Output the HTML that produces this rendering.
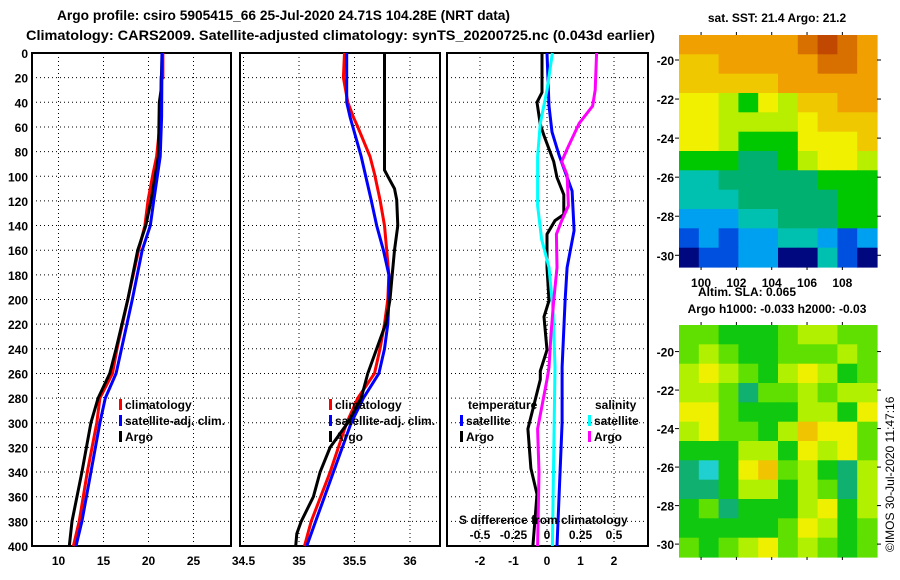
<!DOCTYPE html>
<html><head><meta charset="utf-8"><style>
body{margin:0;background:#fff}
svg{display:block;font-family:"Liberation Sans",sans-serif;font-weight:bold}
</style></head><body>
<svg id="s" width="900" height="580" viewBox="0 0 900 580">
<text x="57" y="20" font-size="14" textLength="453" lengthAdjust="spacingAndGlyphs">Argo profile: csiro 5905415_66 25-Jul-2020 24.71S 104.28E (NRT data)</text>
<text x="26" y="40" font-size="14" textLength="629" lengthAdjust="spacingAndGlyphs">Climatology: CARS2009. Satellite-adjusted climatology: synTS_20200725.nc (0.043d earlier)</text>
<text x="777" y="22" font-size="12" text-anchor="middle">sat. SST: 21.4 Argo: 21.2</text>
<text x="698" y="296" font-size="12">Altim. SLA: 0.065</text>
<text x="777" y="313" font-size="12" text-anchor="middle">Argo h1000: -0.033 h2000: -0.03</text>
<text x="0" y="0" font-size="12" font-weight="normal" transform="translate(894,552) rotate(-90)">©IMOS 30-Jul-2020 11:47:16</text>
<g id="g"></g>
</svg>
<script>
// ---- data ----
const depthTicks=[0,20,40,60,80,100,120,140,160,180,200,220,240,260,280,300,320,340,360,380,400];
const tTicks=[10,15,20,25];
const sTicks=[34.5,35,35.5,36];
const dTicks=[-2,-1,0,1,2];
const dsTicks=[-0.5,-0.25,0,0.25,0.5];
const dsTickLabels=["-0.5","-0.25","0","0.25","0.5"];
const tempClimDepth=[0,20,20,52,84,98,119,140,160,200,240,260,280,300,340,380,400];
const tempClim=[21.6,21.6,21.4,21.35,20.9,20.5,19.95,19.6,18.9,17.7,16.5,16.0,14.6,14.25,13.2,12.3,11.65];
const tempSatDepth=[0,52,84,119,140,160,200,240,260,280,300,340,380,400];
const tempSat=[21.5,21.45,21.3,20.6,20.2,19.3,18.2,17.0,16.4,15.2,14.6,13.6,12.6,11.95];
const tempArgoDepth=[0,30,40,84,119,140,160,200,240,260,280,300,340,380,400];
const tempArgo=[21.5,21.4,21.2,21.1,20.3,19.7,18.8,17.7,16.4,15.7,14.4,13.6,12.6,11.5,11.2];
const salClimDepth=[0,20,40,52,60,84,98,119,140,160,180,200,220,240,260,280,300,340,380,400];
const salClim=[35.41,35.40,35.44,35.49,35.53,35.64,35.68,35.73,35.77,35.79,35.81,35.80,35.77,35.73,35.68,35.53,35.43,35.28,35.11,35.05];
const salSatDepth=[0,40,52,84,119,140,160,180,200,220,240,260,280,300,340,380,400];
const salSat=[35.43,35.43,35.46,35.56,35.65,35.70,35.76,35.81,35.81,35.80,35.77,35.72,35.58,35.47,35.31,35.15,35.07];
const salArgoDepth=[0,95,100,110,119,140,160,180,200,220,240,260,280,300,320,340,360,380,390,400];
const salArgo=[35.77,35.77,35.80,35.86,35.88,35.89,35.86,35.84,35.82,35.78,35.70,35.62,35.56,35.44,35.28,35.19,35.13,35.02,34.98,34.97];
const dTempArgoDepth=[0,32,40,58,67,88,101,115,131,136,147,174,201,214,241,258,265,305,337,358,400];
const dTempArgo=[-0.15,-0.15,-0.3,-0.2,-0.09,0.2,0.3,0.5,0.5,0.24,0,0,0.06,-0.09,0,-0.2,-0.2,-0.57,-0.48,-0.3,-0.42];
const dTempSatDepth=[0,43,64,83,112,144,174,201,255,300,400];
const dTempSat=[0,0.06,0.15,0.36,0.75,0.81,0.6,0.54,0.45,0.45,0.3];
const dSalSatDepth=[0,30,57,84,124,151,174,209,255,400];
const dSalSat=[0.04,0,-0.05,-0.07,-0.07,-0.04,0.015,0.045,0.06,0.04];
const dSalArgoDepth=[0,30,43,57,78,88,99,124,136,147,174,201,228,255,265,305,340,400];
const dSalArgo=[0.37,0.36,0.34,0.24,0.15,0.11,0.15,0.16,0.11,0.07,0.075,0.05,0.03,0.015,0,-0.07,-0.06,-0.07];
const lonTicks=[100,102,104,106,108];
const latTicks=[-20,-22,-24,-26,-28,-30];
const sstGrid=[
[9,9,9,9,9,9,10,11,10,9],[8,8,9,9,9,9,9,10,10,9],[8,8,8,8,8,9,9,9,9,9],[7,7,6,5,7,6,8,8,9,9],
[7,7,6,6,6,6,7,8,8,8],[7,7,6,5,5,5,7,7,7,8],[5,5,5,4,4,5,6,7,7,6],[3,3,4,4,4,4,4,5,5,5],
[3,3,3,4,4,4,4,4,5,5],[2,2,2,3,3,4,4,4,5,5],[1,2,1,2,2,3,3,2,1,2],[0,1,1,2,2,0,0,3,1,0]];
const slaGrid=[
[3,3,2,2,2,3,4,4,3,3],[3,4,3,2,2,3,3,3,4,3],[4,5,4,3,2,4,5,4,2,3],[4,4,3,1,3,3,4,3,4,4],
[5,5,3,2,2,2,4,4,2,5],[4,5,3,3,2,4,6,5,5,3],[2,2,2,4,4,2,5,4,5,3],[1,0,2,5,6,3,4,2,1,4],
[1,1,2,4,4,2,4,3,1,4],[2,3,1,2,2,2,4,5,2,4],[2,2,2,2,2,3,5,4,2,3],[3,2,3,4,5,3,4,3,2,3]];
const sstColors=["#00087f","#0050e0","#00a0f0","#00c0b0","#00b070","#00c800","#b8ee00","#f0f000","#f0c800","#f0a000","#d87000","#c04800"];
const slaColors=["#20d0d0","#10b070","#10c810","#60e000","#b0f000","#eef000","#f0c400"];

// ---- scales ----
const NS="http://www.w3.org/2000/svg",G=document.getElementById('g');
function mk(t,a,p){const e=document.createElementNS(NS,t);for(const k in a)e.setAttribute(k,a[k]);(p||G).appendChild(e);return e;}
const Y0=53,Y1=546;
const yD=d=>Y0+d*(Y1-Y0)/400;
const panels=[
 {x0:32,x1:231,f:v=>58.5+(v-10)*9,ticks:tTicks,n:'temperature'},
 {x0:240,x1:440,f:v=>299+(v-35)*111,ticks:sTicks,n:'salinity'},
 {x0:447,x1:648,f:v=>547+v*33.5,ticks:dTicks,n:'difference'}];
const xS=v=>547+v*134;
panels.forEach((p,i)=>{
  const fr=mk('rect',{x:p.x0,y:Y0,width:p.x1-p.x0,height:Y1-Y0,fill:'none',stroke:'#000','stroke-width':2});
  
  
  depthTicks.forEach(d=>{
    if(d>0&&d<400){const l=mk('line',{x1:p.x0,x2:p.x1,y1:yD(d),y2:yD(d),stroke:'#000','stroke-dasharray':'1 3'});
    
    }
    if(i==0){const t=mk('text',{x:28,y:yD(d)+5,'font-size':12,'text-anchor':'end'});t.textContent=d;
    
    }
  });
  p.ticks.forEach(v=>{
    const x=p.f(v);
    if(x>p.x0+2&&x<p.x1-2){const l=mk('line',{x1:x,x2:x,y1:Y0,y2:Y1,stroke:'#000','stroke-dasharray':'1 3'});
    
    }
    const t=mk('text',{x:x,y:565,'font-size':12,'text-anchor':'middle'});t.textContent=v;
    
    
  });
});
function series(depths,vals,fx,col,name){
  const pts=depths.map((d,i)=>fx(vals[i]).toFixed(1)+','+yD(d).toFixed(1)).join(' ');
  const e=mk('polyline',{points:pts,fill:'none',stroke:col,'stroke-width':3});
  
  
}
const fT=panels[0].f,fS=panels[1].f,fD=panels[2].f;
series(tempClimDepth,tempClim,fT,'#ff0000','temp-climatology-line');
series(tempArgoDepth,tempArgo,fT,'#000','temp-argo-line');
series(tempSatDepth,tempSat,fT,'#0000ff','temp-satellite-line');
series(salClimDepth,salClim,fS,'#ff0000','sal-climatology-line');
series(salSatDepth,salSat,fS,'#0000ff','sal-satellite-line');
series(salArgoDepth,salArgo,fS,'#000','sal-argo-line');
series(dTempArgoDepth,dTempArgo,fD,'#000','dtemp-argo-line');
series(dTempSatDepth,dTempSat,fD,'#0000ff','dtemp-satellite-line');
series(dSalSatDepth,dSalSat,xS,'#00ffff','dsal-satellite-line');
series(dSalArgoDepth,dSalArgo,xS,'#ff00ff','dsal-argo-line');
// difference S axis labels
const st=mk('text',{x:459,y:524,'font-size':12});st.textContent='S difference from climatology';


dsTicks.forEach((v,i)=>{const t=mk('text',{x:xS(v),y:539,'font-size':12,'text-anchor':'middle'});t.textContent=dsTickLabels[i];

});
// legends
function leg(x,y,col,txt,name){
  const r=mk('rect',{x:x,y:y-10,width:3,height:11,fill:col});
  
  
  const t=mk('text',{x:x+6,y:y,'font-size':12});t.textContent=txt;
  
  
}
[[119,'climatology','#ff0000'],[119,'satellite-adj. clim.','#0000ff'],[119,'Argo','#000']].forEach((a,i)=>{leg(119,409+i*16,a[2],a[1],'legend-temp-'+i);leg(329,409+i*16,a[2],a[1],'legend-sal-'+i);});
const tl=mk('text',{x:468,y:409,'font-size':12});tl.textContent='temperature';


const sl=mk('text',{x:595,y:409,'font-size':12});sl.textContent='salinity';


leg(460,425,'#0000ff','satellite','legend-diff-temp-sat');
leg(460,441,'#000','Argo','legend-diff-temp-argo');
leg(588,425,'#00ffff','satellite','legend-diff-sal-sat');
leg(588,441,'#ff00ff','Argo','legend-diff-sal-argo');
// maps
function map(grid,colors,x0,y0,x1,y1,latTop,latBot,name,lonLabels){
  const nr=grid.length,nc=grid[0].length,cw=(x1-x0)/nc,ch=(y1-y0)/nr;
  grid.forEach((row,r)=>row.forEach((v,c)=>{
    const e=mk('rect',{x:(x0+c*cw).toFixed(1),y:(y0+r*ch).toFixed(1),width:(cw+0.6).toFixed(1),height:(ch+0.6).toFixed(1),fill:colors[v]});
    
    
  }));
  const lonF=l=>679+(l-98.75)*17.66;
  const latF=l=>y0+(latTop-l)*(y1-y0)/(latTop-latBot);
  latTicks.forEach(l=>{
    const y=latF(l);
    mk('line',{x1:x0-4,x2:x0,y1:y,y2:y,stroke:'#000'});mk('line',{x1:x1,x2:x1+4,y1:y,y2:y,stroke:'#000'});
    const t=mk('text',{x:x0-5,y:y+5,'font-size':12,'text-anchor':'end'});t.textContent=l;
    
    
  });
  lonTicks.forEach(l=>{
    const x=lonF(l);
    mk('line',{x1:x,x2:x,y1:y0-3,y2:y0,stroke:'#000'});mk('line',{x1:x,x2:x,y1:y1,y2:y1+3,stroke:'#000'});
    if(lonLabels){const t=mk('text',{x:x,y:y1+20,'font-size':12,'text-anchor':'middle'});t.textContent=l;
    
    }
  });
}
map(sstGrid,sstColors,679,35,877,267,-18.72,-30.6,'sst-map',true);
map(slaGrid,slaColors,679,325,877,557,-18.62,-30.67,'sla-map',false);
</script>
</body></html>
